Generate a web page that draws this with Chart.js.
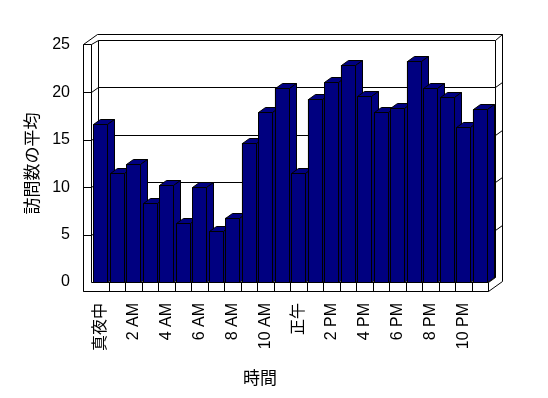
<!DOCTYPE html>
<html>
<head>
<meta charset="utf-8">
<script src="https://cdn.jsdelivr.net/npm/chart.js@4/dist/chart.umd.min.js"></script>
<style>
	body { margin: 0; background: #fff; }
</style>
</head>
<body>
<canvas id="chart" width="548" height="398"></canvas>
<script>

// categories (hour of day) and the average visit count for each
const hours = ['真夜中', '1 AM', '2 AM', '3 AM', '4 AM', '5 AM', '6 AM', '7 AM', '8 AM', '9 AM', '10 AM', '11 AM',
	'正午', '1 PM', '2 PM', '3 PM', '4 PM', '5 PM', '6 PM', '7 PM', '8 PM', '9 PM', '10 PM', '11 PM']
const visits = [16.7, 11.5, 12.4, 8.3, 10.2, 6.2, 10.0, 5.4, 6.8, 14.7, 17.9, 20.5,
	11.5, 19.3, 21.1, 22.9, 19.6, 17.9, 18.4, 23.3, 20.5, 19.5, 16.4, 18.2]
const yTicks = [0, 5, 10, 15, 20, 25]

const NAVY = '#000080'
const DX = 7, DY = -5   // depth offset of the fake 3d box
const FONT = '"Liberation Sans", "Noto Sans CJK JP", sans-serif'

function seg(ctx, x1, y1, x2, y2) {
	ctx.beginPath()
	ctx.moveTo(Math.round(x1) + .5, Math.round(y1) + .5)
	ctx.lineTo(Math.round(x2) + .5, Math.round(y2) + .5)
	ctx.stroke()
}

function poly(ctx, pts) {
	ctx.beginPath()
	ctx.moveTo(pts[0][0], pts[0][1])
	for (let i = 1; i < pts.length; i++) ctx.lineTo(pts[i][0], pts[i][1])
	ctx.closePath()
	ctx.fill()
	ctx.stroke()
}

// walls, gridlines, floor and the bar tops/sides
const box3d = {
	id: 'box3d',
	beforeDatasetsDraw(chart) {
		const ctx = chart.ctx, a = chart.chartArea, ys = chart.scales.y
		const L = a.left, R = a.right, T = a.top, B = a.bottom
		const fl = L - 9, ft = T - 1, fb = B + 9
		ctx.save()
		ctx.strokeStyle = '#000'
		ctx.lineWidth = 1

		// back wall (inner face)
		seg(ctx, L - 1 + DX, T + DY, R + DX, T + DY)
		seg(ctx, L - 1 + DX, T + DY, L - 1 + DX, B + DY)
		seg(ctx, R + DX, T + DY, R + DX, B + DY)
		seg(ctx, L - 1 + DX, B + DY, R + DX, B + DY)
		// outer edges of the box
		seg(ctx, fl, ft, fl + 2 * DX, ft + 2 * DY)
		seg(ctx, fl + 2 * DX, ft + 2 * DY, R + 2 * DX, ft + 2 * DY)
		seg(ctx, R + 2 * DX, ft + 2 * DY, R + 2 * DX, fb + 2 * DY)
		seg(ctx, R + DX, T + DY, R + 2 * DX, ft + 2 * DY)
		seg(ctx, L - 1, ft, L - 1 + DX, T + DY)
		// left wall front
		seg(ctx, fl, ft, L - 1, ft)
		seg(ctx, fl, ft, fl, fb)
		seg(ctx, L - 1, ft, L - 1, B)

		// gridlines wrapping round the walls
		yTicks.forEach(v => {
			if (v == 0 || v == yTicks[yTicks.length - 1]) return
			const y = ys.getPixelForValue(v)
			seg(ctx, fl, y, L - 1, y)
			seg(ctx, L - 1, y, L - 1 + DX, y + DY)
			seg(ctx, L - 1 + DX, y + DY, R + DX, y + DY)
			seg(ctx, R + DX, y + DY, R + 2 * DX, y + 2 * DY)
		})
		ctx.restore()
	},
	afterDatasetsDraw(chart) {
		const ctx = chart.ctx, a = chart.chartArea, xs = chart.scales.x
		const L = a.left, R = a.right, B = a.bottom
		const fl = L - 9, fb = B + 9
		ctx.save()
		ctx.strokeStyle = '#000'
		ctx.lineWidth = 1
		ctx.fillStyle = NAVY

		// redraw every bar in order so each one hides the side of the previous
		chart.getDatasetMeta(0).data.forEach(bar => {
			const p = bar.getProps(['x', 'y', 'base', 'width'], true)
			const l = Math.round(p.x - p.width / 2) + .5
			const r = Math.round(p.x + p.width / 2) + .5
			const t = Math.round(p.y) + .5
			const b = Math.round(p.base) + .5
			poly(ctx, [[l, t], [r, t], [r, b], [l, b]])
			poly(ctx, [[l, t], [l + DX, t + DY], [r + DX, t + DY], [r, t]])
			poly(ctx, [[r, t], [r + DX, t + DY], [r + DX, b + DY], [r, b]])
		})

		// floor strip with the category ticks
		ctx.fillStyle = '#fff'
		ctx.fillRect(fl + 1, B + 1, R - fl - 1, fb - B - 1)
		seg(ctx, L - 1, B, R, B)
		seg(ctx, fl, fb, R, fb)
		seg(ctx, fl, B, fl, fb)
		const cw = (R - L) / hours.length
		for (let k = 1; k <= hours.length; k++) {
			const x = xs.getPixelForValue(k - 1) + cw / 2
			seg(ctx, x, B, x, fb)
		}
		seg(ctx, R, fb, R + 2 * DX, fb + 2 * DY)
		seg(ctx, R, B, R + DX, B + DY)
		ctx.restore()
	},
	afterDraw(chart) {
		const ctx = chart.ctx
		ctx.save()
		ctx.fillStyle = '#000'
		ctx.font = '17px "Noto Sans CJK JP", sans-serif'
		ctx.textAlign = 'center'
		ctx.textBaseline = 'middle'
		ctx.fillText('時間', 260, 378)
		ctx.restore()
	}
}

new Chart(document.getElementById('chart'), {
	type: 'bar',
	data: {
		labels: hours,
		datasets: [{
			data: visits,
			backgroundColor: NAVY,
			borderColor: '#000',
			borderWidth: 1,
			barPercentage: 0.85,
			categoryPercentage: 1
		}]
	},
	options: {
		responsive: false,
		animation: false,
		layout: { padding: { left: 15, top: 45, right: 60, bottom: 0 } },
		plugins: { legend: { display: false }, tooltip: { enabled: false } },
		scales: {
			x: {
				grid: { display: false, drawTicks: false },
				border: { display: false },
				ticks: {
					autoSkip: false,
					minRotation: 90,
					maxRotation: 90,
					padding: 21,
					color: '#000',
					font: { family: FONT, size: 16 },
					callback: function (v, i) { return i % 2 == 0 ? hours[i] : '' }
				},
				afterFit: function (s) { s.height = 116 }
			},
			y: {
				min: 0,
				max: 25,
				grid: { display: false, drawTicks: false },
				border: { display: false },
				ticks: {
					stepSize: 5,
					padding: 22,
					color: '#000',
					font: { family: FONT, size: 16 }
				},
				title: {
					display: true,
					text: '訪問数の平均',
					color: '#000',
					padding: { top: 6, bottom: 0 },
					font: { family: '"Noto Sans CJK JP", sans-serif', size: 17 }
				},
				afterFit: function (s) { s.width = 77 }
			}
		}
	},
	plugins: [box3d]
})
</script>
</body>
</html>
